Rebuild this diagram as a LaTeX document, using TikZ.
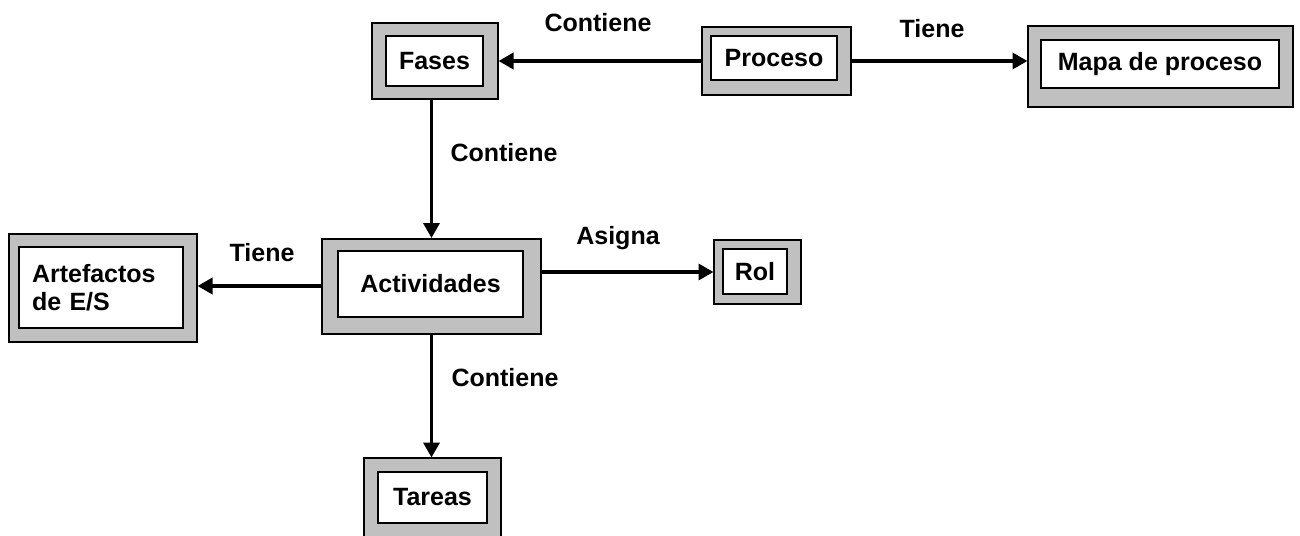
\documentclass[tikz,border=0pt]{standalone}
\usepackage{fontspec}
\setmainfont{Liberation Sans}
\usetikzlibrary{arrows.meta}
\definecolor{framegray}{HTML}{C0C0C0}
\tikzset{
  outerbox/.style={draw=black, line width=2pt, fill=framegray, rectangle, inner sep=0pt},
  innerbox/.style={draw=black, line width=2pt, fill=white, rectangle, inner sep=0pt,
    font=\fontsize{25}{28}\selectfont\bfseries, align=left},
  lbl/.style={font=\fontsize{25}{28}\selectfont\bfseries, inner sep=0pt},
  link/.style={line width=3.5pt, -{Triangle[length=15pt,width=16pt]}, shorten >=-0.5pt}
}
\begin{document}
\begin{tikzpicture}[x=1pt,y=-1pt]
\useasboundingbox (0,0) rectangle (1300,535);

% boxes: gray frame with white inner panel
\node[outerbox, minimum width=126, minimum height=76] (fases) at (435,61) {};
\node[innerbox, minimum width=97, minimum height=49] (fasesin) at (434.5,61) {Fases};

\node[outerbox, minimum width=149, minimum height=68] (proceso) at (776.5,61) {};
\node[innerbox, minimum width=126, minimum height=44] (procesoin) at (774,58) {Proceso};

\node[outerbox, minimum width=265, minimum height=81] (mapa) at (1160.5,66.5) {};
\node[innerbox, minimum width=238, minimum height=48] (mapain) at (1160,64) {Mapa de proceso};

\node[outerbox, minimum width=188, minimum height=108] (artef) at (103,288) {};
\node[innerbox, minimum width=164, minimum height=81, text width=138] (artefin) at (101,287.5) {Artefactos\\de E/S};

\node[outerbox, minimum width=219, minimum height=95] (activ) at (431.5,286) {};
\node[innerbox, minimum width=185, minimum height=66] (activin) at (430.5,284) {Actividades};

\node[outerbox, minimum width=87, minimum height=64] (rol) at (757.5,272) {};
\node[innerbox, minimum width=64, minimum height=45] (rolin) at (755,271.5) {Rol};

\node[outerbox, minimum width=137, minimum height=80] (tareas) at (432.5,498) {};
\node[innerbox, minimum width=109, minimum height=51] (tareasin) at (432.5,497.5) {Tareas};

% connectors
\draw[link] (proceso.west) -- (proceso.west -| fases.east);
\draw[link] (proceso.east) -- (proceso.east -| mapa.west);
\draw[link] (fases.south -| activ.north) -- (activ.north);
\draw[link] (activ.west) -- (activ.west -| artef.east);
\draw[link] (rol.west -| activ.east) -- (rol.west);
\draw[link] (activ.south) -- (activ.south |- tareas.north);

% connector labels
\node[lbl] (l1) at (598,23) {Contiene};
\node[lbl] (l2) at (932,29) {Tiene};
\node[lbl] (l3) at (504,153) {Contiene};
\node[lbl] (l4) at (262,253) {Tiene};
\node[lbl] (l5) at (618,238) {Asigna};
\node[lbl] (l6) at (505,378) {Contiene};
\end{tikzpicture}
\end{document}
